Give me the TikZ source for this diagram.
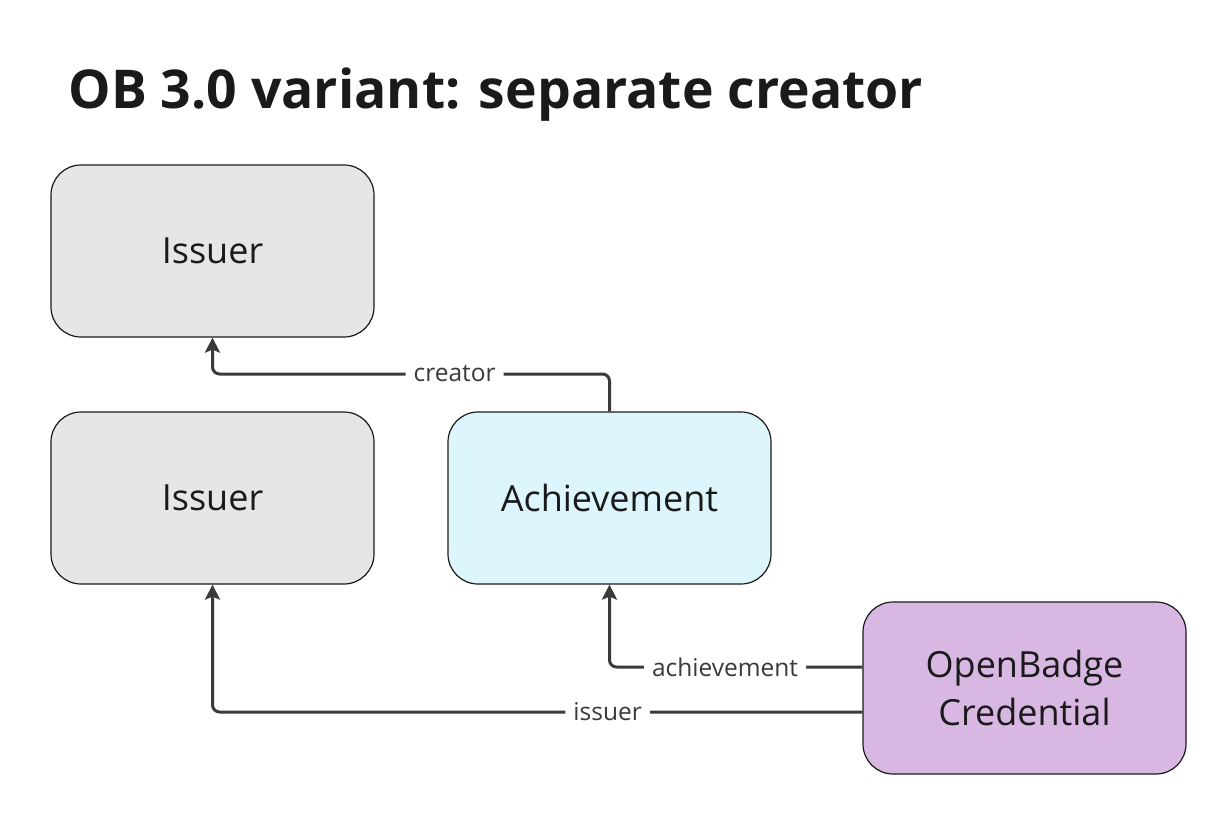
\documentclass[tikz,border=0pt]{standalone}
\usepackage{fontspec}
\setmainfont{Open Sans}
\usetikzlibrary{arrows.meta}
\definecolor{issfill}{HTML}{E6E6E6}
\definecolor{achfill}{HTML}{DDF5FC}
\definecolor{obcfill}{HTML}{D8B8E2}
\definecolor{linec}{HTML}{3A3A3A}
\definecolor{txt}{HTML}{1A1A1A}
\begin{document}
\begin{tikzpicture}[x=1pt,y=-1pt,
  box/.style={draw=txt, line width=1.2pt, rounded corners=30pt, minimum width=323pt, minimum height=172pt, text=txt, font=\fontsize{36}{48}\selectfont, align=center, inner sep=0pt},
  conn/.style={draw=linec, line width=3pt, rounded corners=7pt, -{Stealth[length=15pt,width=15pt,inset=3pt]}},
  lbl/.style={fill=white, text=linec, font=\fontsize{24.5}{28}\selectfont, inner xsep=8pt, inner ysep=2pt}]
\useasboundingbox (0,0) rectangle (1220,819);
\node[anchor=base west, text=txt, font=\fontsize{53.5}{60}\selectfont\bfseries] (title) at (65,108) {OB 3.0 variant: separate creator};
\node[box, fill=issfill] (iss1) at (212.5,251) {Issuer};
\node[box, fill=issfill] (iss2) at (212.5,498) {Issuer};
\node[box, fill=achfill] (ach) at (609.5,498) {Achievement};
\node[box, fill=obcfill] (obc) at (1024.5,688) {OpenBadge\\Credential};
\coordinate (c1) at (609.5,374);
\coordinate (c2) at (212.5,374);
\coordinate (a1) at (863,667);
\coordinate (a2) at (609.5,667);
\coordinate (i1) at (863,712);
\coordinate (i2) at (212.5,712);
\draw[conn] (ach.north) -- (c1) -- node[lbl, pos=0.39]{creator} (c2) -- (iss1.south);
\draw[conn] (obc.west |- a1) -- node[lbl, pos=0.543]{achievement} (a2) -- (ach.south);
\draw[conn] (obc.west |- i1) -- node[lbl, pos=0.392]{issuer} (i2) -- (iss2.south);
\end{tikzpicture}
\end{document}
